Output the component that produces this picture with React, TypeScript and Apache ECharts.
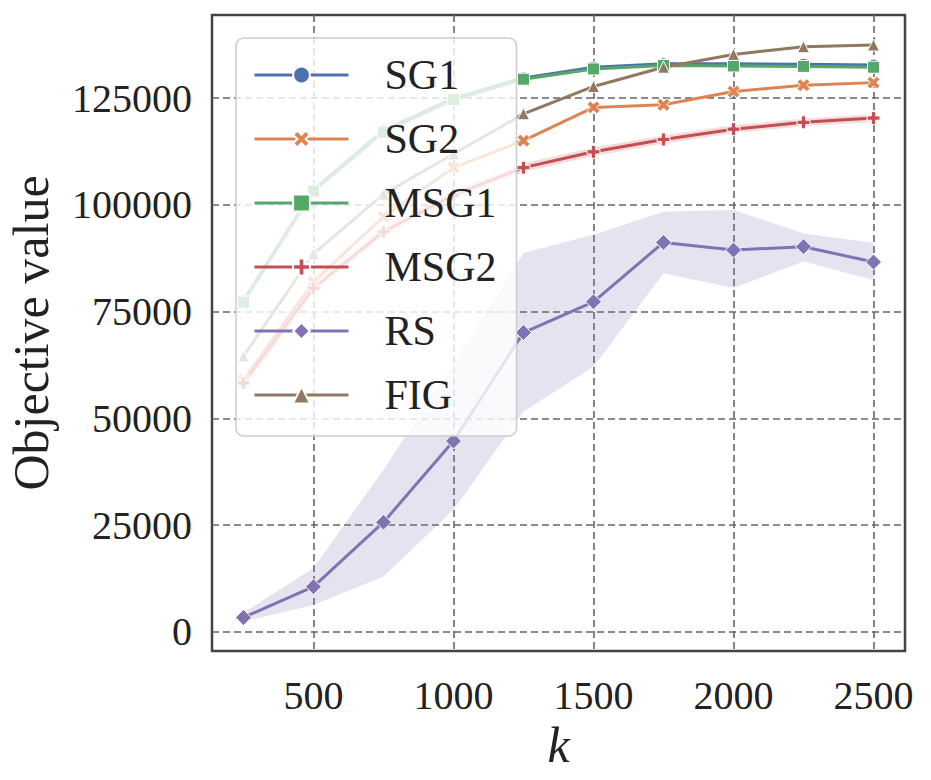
import React, { useEffect, useRef } from "react";
import * as echarts from "echarts";

// Budget values k on the horizontal axis
const kValues = [250, 500, 750, 1000, 1250, 1500, 1750, 2000, 2250, 2500];

// Mean objective value per method
const sg1 = [77600, 103500, 117400, 124900, 129700, 132200, 133000, 133000, 132900, 132700];
const sg2 = [59000, 82000, 97200, 108700, 115000, 122800, 123400, 126500, 128000, 128600];
const msg1 = [77200, 103200, 117000, 124600, 129400, 131800, 132600, 132500, 132400, 132200];
const msg2 = [58300, 80500, 93700, 102300, 108700, 112400, 115300, 117700, 119300, 120300];
const rs = [3400, 10600, 25700, 44700, 70100, 77300, 91200, 89400, 90200, 86600];
const fig = [64600, 88500, 102500, 111900, 121300, 127700, 132200, 135200, 137000, 137400];

// Confidence bands
const rsLower = [2500, 6300, 13000, 28600, 51600, 62100, 84000, 80500, 86700, 82400];
const rsUpper = [4500, 15000, 38000, 63000, 88700, 93000, 98400, 98800, 93300, 91100];
const msg2Lower = [56800, 79000, 92500, 101200, 107700, 111400, 114300, 116800, 118400, 119400];
const msg2Upper = [59800, 82000, 94900, 103400, 109700, 113400, 116300, 118600, 120200, 121200];

// Tick labels
const xTicks = [500, 1000, 1500, 2000, 2500];
const yTicks = [0, 25000, 50000, 75000, 100000, 125000];

const FONT = "'Liberation Serif', 'DejaVu Serif', serif";

const colors = {
  SG1: "#4C72B0",
  SG2: "#DD8452",
  MSG1: "#55A868",
  MSG2: "#C44E52",
  RS: "#8172B3",
  FIG: "#937860",
};

const plusPath = "path://M4,0 H8 V4 H12 V8 H8 V12 H4 V8 H0 V4 H4 Z";
const xPath =
  "path://M4.414,0.172 L5.828,1.586 L4.414,3 L5.828,4.414 L4.414,5.828 L3,4.414 L1.586,5.828 L0.172,4.414 L1.586,3 L0.172,1.586 L1.586,0.172 L3,1.586 Z";

function pairs(ys: number[]) {
  return kValues.map((k, i) => [k, ys[i]]);
}

function bandSeries(lower: number[], upper: number[], color: string) {
  return {
    type: "custom",
    silent: true,
    z: 1,
    data: kValues.map((k, i) => [k, lower[i], upper[i]]),
    encode: { x: 0, y: [1, 2] },
    renderItem: (params: any, api: any) => {
      if (params.dataIndex !== 0) return null;
      const top = kValues.map((k, i) => api.coord([k, upper[i]]));
      const bottom = kValues.map((k, i) => api.coord([k, lower[i]])).reverse();
      return {
        type: "polygon",
        shape: { points: top.concat(bottom) },
        style: { fill: color, stroke: "none" },
      };
    },
  };
}

function lineSeries(name: string, ys: number[], symbol: string, size: number) {
  return {
    name,
    type: "line",
    data: pairs(ys),
    symbol,
    symbolSize: size,
    showAllSymbol: true,
    z: 3,
    lineStyle: { color: (colors as any)[name], width: 3 },
    itemStyle: { color: (colors as any)[name], borderColor: "#ffffff", borderWidth: 1 },
    emphasis: { disabled: true },
  };
}

export default function App() {
  const ref = useRef<HTMLDivElement>(null);

  useEffect(() => {
    if (!ref.current) return;
    const chart = echarts.init(ref.current, undefined, { renderer: "svg" });

    const gridLine = {
      show: true,
      lineStyle: { color: "#666666", width: 1.6, type: [7, 4] as any },
    };

    chart.setOption({
      animation: false,
      backgroundColor: "#ffffff",
      grid: {
        left: 212,
        top: 15,
        right: 26,
        bottom: 129,
        containLabel: false,
        outerBoundsMode: "none",
        show: true,
        borderColor: "#444444",
        borderWidth: 2.5,
        backgroundColor: "transparent",
      },
      xAxis: {
        type: "value",
        min: 137.5,
        max: 2612.5,
        name: "k",
        nameLocation: "middle",
        nameGap: 66,
        nameTextStyle: { fontFamily: FONT, fontSize: 50, fontStyle: "italic", color: "#222222" },
        axisLine: { show: false },
        axisTick: { show: false, customValues: xTicks },
        axisLabel: {
          customValues: xTicks,
          formatter: (v: number) => String(v),
          fontFamily: FONT,
          fontSize: 40,
          color: "#222222",
          margin: 24,
        },
        splitLine: gridLine,
      },
      yAxis: {
        type: "value",
        min: -4450,
        max: 144430,
        name: "Objective value",
        nameLocation: "middle",
        nameGap: 156,
        nameTextStyle: { fontFamily: FONT, fontSize: 50, color: "#222222" },
        axisLine: { show: false },
        axisTick: { show: false, customValues: yTicks },
        axisLabel: {
          customValues: yTicks,
          formatter: (v: number) => String(v),
          fontFamily: FONT,
          fontSize: 40,
          color: "#222222",
          margin: 20,
        },
        splitLine: gridLine,
      },
      legend: {
        orient: "vertical",
        left: 236,
        top: 38,
        data: ["SG1", "SG2", "MSG1", "MSG2", "RS", "FIG"],
        itemWidth: 94,
        itemHeight: 21,
        itemGap: 14,
        padding: [12, 20, 16, 17],
        backgroundColor: "rgba(255,255,255,0.8)",
        borderColor: "#cccccc",
        borderWidth: 1.5,
        borderRadius: 8,
        lineStyle: { width: 3 },
        textStyle: {
          fontFamily: FONT,
          fontSize: 42,
          color: "#222222",
          lineHeight: 50,
          padding: [0, 0, 0, 31],
        },
      },
      series: [
        bandSeries(msg2Lower, msg2Upper, "rgba(196,78,82,0.2)"),
        bandSeries(rsLower, rsUpper, "rgba(129,114,179,0.2)"),
        lineSeries("SG1", sg1, "circle", 12),
        lineSeries("SG2", sg2, xPath, 13),
        lineSeries("MSG1", msg1, "rect", 12),
        lineSeries("MSG2", msg2, plusPath, 13),
        lineSeries("RS", rs, "diamond", 16),
        lineSeries("FIG", fig, "triangle", 12),
      ],
    });

    return () => chart.dispose();
  }, []);

  return (
    <div
      ref={ref}
      style={{ position: "fixed", left: 0, top: 0, width: 931, height: 780 }}
    />
  );
}
